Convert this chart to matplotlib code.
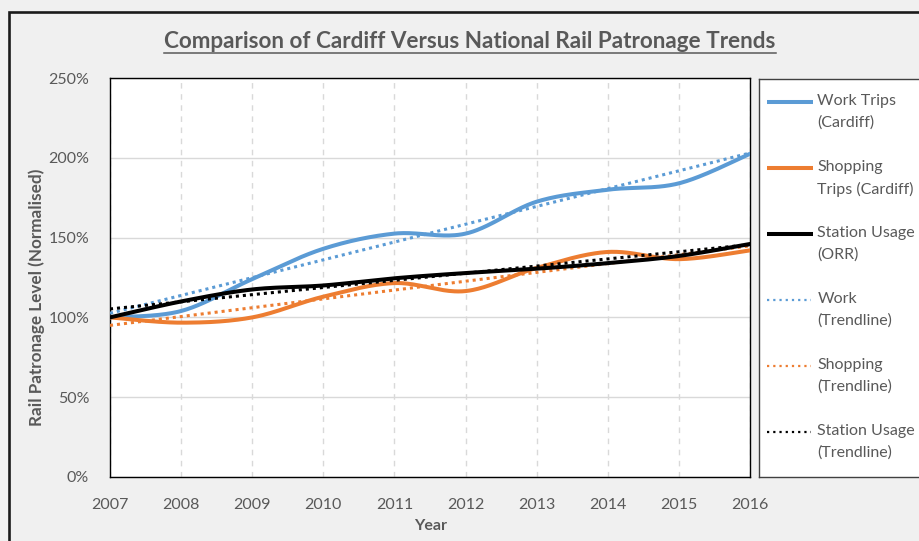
import numpy as np
import matplotlib
matplotlib.use("Agg")
import matplotlib.pyplot as plt
from matplotlib.lines import Line2D
from matplotlib.patches import Rectangle
from matplotlib.ticker import FuncFormatter

# ---------------- data ----------------
years = [2007, 2008, 2009, 2010, 2011, 2012, 2013, 2014, 2015, 2016]
work_trips = [100, 104, 124, 143, 152.5, 152.5, 172.5, 180, 184, 202.5]
shopping_trips = [100, 96.7, 100, 113, 121.5, 116.5, 131, 141, 136.5, 142]
station_usage = [100, 110, 117.5, 120, 124.5, 127.8, 130.5, 134, 138.5, 146]

trend_years = [2007, 2016]
work_trend = [102.6, 203]
shopping_trend = [95.0, 144.8]
station_trend = [105.3, 145.6]

y_ticks = [0, 50, 100, 150, 200, 250]

title = "Comparison of Cardiff Versus National Rail Patronage Trends"
x_label = "Year"
y_label = "Rail Patronage Level (Normalised)"
legend_labels = ["Work Trips\n(Cardiff)", "Shopping\nTrips (Cardiff)", "Station Usage\n(ORR)",
                 "Work\n(Trendline)", "Shopping\n(Trendline)", "Station Usage\n(Trendline)"]

BLUE = "#5b9bd5"
ORANGE = "#ed7d31"
BLACK = "#000000"
TXT = "#595959"
FONT = "Lato"


def smooth(xs, ys, n=40):
    """Excel-like smoothed line (Bezier with Catmull-Rom control points)."""
    P = np.column_stack([xs, ys]).astype(float)
    P = np.vstack([P[0], P, P[-1]])
    out = []
    t = np.linspace(0, 1, n)[:, None]
    for i in range(1, len(P) - 2):
        p0, p3 = P[i], P[i + 1]
        c1 = p0 + (P[i + 1] - P[i - 1]) / 6.0
        c2 = p3 - (P[i + 2] - P[i]) / 6.0
        seg = (1 - t) ** 3 * p0 + 3 * (1 - t) ** 2 * t * c1 + 3 * (1 - t) * t ** 2 * c2 + t ** 3 * p3
        out.append(seg if i == 1 else seg[1:])
    out = np.vstack(out)
    return out[:, 0], out[:, 1]


W, H = 920, 541
fig = plt.figure(figsize=(W / 100, H / 100), dpi=100, facecolor="#f0f0f0")

# outer chart frame
fig.patches.append(Rectangle((9.3 / W, -0.2), 1.2, 1 - 12 / H + 0.2, transform=fig.transFigure,
                             fill=False, edgecolor="#1a1a1a", linewidth=1.9))

ax = fig.add_axes([110 / W, (H - 477) / H, 640 / W, 399 / H])
ax.set_facecolor("white")
for s in ax.spines.values():
    s.set_color("black")
    s.set_linewidth(1.0)

ax.set_xlim(years[0], years[-1])
ax.set_ylim(y_ticks[0], y_ticks[-1])
ax.set_xticks(years)
ax.set_yticks(y_ticks)
ax.yaxis.set_major_formatter(FuncFormatter(lambda v, p: f"{v:.0f}%"))
ax.tick_params(length=0, labelsize=11.5, colors=TXT)
ax.tick_params(axis="y", pad=15)
ax.tick_params(axis="x", pad=15)
for lab in ax.get_xticklabels() + ax.get_yticklabels():
    lab.set_fontfamily(FONT)

ax.grid(axis="y", color="#d9d9d9", linewidth=1.0, linestyle="-")
ax.grid(axis="x", color="#d9d9d9", linewidth=1.0, linestyle=(0, (4, 4)))
ax.set_axisbelow(True)

LW = 2.9
DOT = dict(linewidth=2.2, linestyle=(0, (1, 1.3)))

ax.plot(trend_years, work_trend, color=BLUE, **DOT, zorder=3)
ax.plot(trend_years, shopping_trend, color=ORANGE, **DOT, zorder=3)
ax.plot(*smooth(years, work_trips), color=BLUE, linewidth=LW, solid_capstyle="round", zorder=4)
ax.plot(*smooth(years, shopping_trips), color=ORANGE, linewidth=LW, solid_capstyle="round", zorder=4)
ax.plot(*smooth(years, station_usage), color=BLACK, linewidth=LW, solid_capstyle="round", zorder=5)
ax.plot(trend_years, station_trend, color=BLACK, **DOT, zorder=6)

# axis labels
fig.text(431 / W, 1 - 526 / H, x_label, ha="center", va="center", fontsize=11.5,
         fontweight="bold", color=TXT, family=FONT)
fig.text(36.5 / W, 1 - 297 / H, y_label, ha="center", va="center", rotation=90, fontsize=12.3,
         fontweight="bold", color=TXT, family=FONT)

# title with underline
t = fig.text(470 / W, 1 - 41 / H, title, ha="center", va="center", fontsize=16.2,
             fontweight="bold", color=TXT, family=FONT)
fig.canvas.draw()
bb = t.get_window_extent()
uy = 1 - 52.7 / H
fig.lines.append(Line2D([bb.x0 / W, bb.x1 / W], [uy, uy], transform=fig.transFigure,
                        color=TXT, linewidth=1.1))

# legend (manual, box runs past the right edge like the reference)
lax = fig.add_axes([759.5 / W, (H - 476.5) / H, 200 / W, 398 / H])
lax.set_xlim(0, 200)
lax.set_ylim(398, 0)
lax.set_xticks([])
lax.set_yticks([])
lax.set_facecolor("white")
for s in lax.spines.values():
    s.set_color("#404040")
    s.set_linewidth(1.0)
handles = [
    (BLUE, "-"), (ORANGE, "-"), (BLACK, "-"),
    (BLUE, ":"), (ORANGE, ":"), (BLACK, ":"),
]
for i, ((c, ls), lab) in enumerate(zip(handles, legend_labels)):
    y = 23.2 + i * 66
    if ls == "-":
        lax.plot([7.5, 53.5], [y, y], color=c, linewidth=LW, solid_capstyle="butt")
    else:
        lax.plot([8, 52], [y, y], color=c, linewidth=1.6, linestyle=(0, (1, 1.8)))
    lax.text(58, y - 8.0, lab, ha="left", va="top", fontsize=11.5, color=TXT, family=FONT,
             linespacing=1.68)

fig.savefig("out.png", dpi=100, facecolor=fig.get_facecolor())
